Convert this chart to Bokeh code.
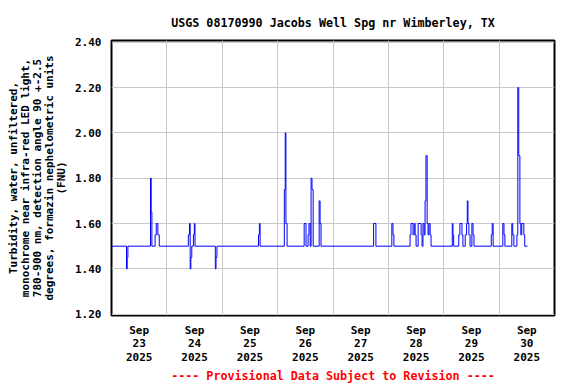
from bokeh.plotting import figure
from bokeh.models import FixedTicker, Range1d, Title
from bokeh.embed import file_html
from bokeh.resources import INLINE

# Hours since 2025-09-23 00:00 where the turbidity value changes (step series)
times_h = [0, 6.5, 6.8, 7.1, 16.9, 17.2, 17.5, 18.9, 19.4, 20.1, 20.7,
           33.3, 33.8, 34.1, 34.4, 34.8, 35.5, 35.9, 36.2,
           45.0, 45.3, 45.7, 63.7, 64.1, 64.4,
           74.9, 75.3, 75.6, 76.1, 83.5, 84.3, 85.2, 85.6, 86.1, 86.5, 86.9, 87.4,
           90.0, 90.4, 90.8, 113.6, 114.6, 121.5, 122.0, 122.4,
           129.4, 129.8, 130.7, 131.2, 131.6, 132.0, 132.9, 134.2, 134.6, 135.0,
           135.5, 135.9, 136.3, 136.8, 137.2, 137.6, 138.1, 138.5,
           147.7, 148.0, 148.3, 150.5, 151.0, 151.9, 152.3,
           153.3, 153.9, 154.2, 154.5, 154.9, 155.4, 156.2, 156.7, 157.1,
           164.6, 165.0, 165.4, 169.6, 170.1, 170.5, 173.5, 173.9, 174.4,
           175.7, 176.1, 176.5, 177.0, 177.4, 177.8, 178.7, 179.1, 180.3]
turbidity = [1.50, 1.40, 1.45, 1.50, 1.80, 1.65, 1.50, 1.55, 1.60, 1.55, 1.50,
             1.55, 1.60, 1.40, 1.45, 1.50, 1.55, 1.60, 1.50,
             1.40, 1.45, 1.50, 1.55, 1.60, 1.50,
             1.75, 2.00, 1.60, 1.50, 1.60, 1.50, 1.55, 1.60, 1.50, 1.80, 1.75, 1.50,
             1.70, 1.60, 1.50, 1.60, 1.50, 1.60, 1.55, 1.50,
             1.55, 1.60, 1.55, 1.60, 1.55, 1.50, 1.60, 1.55, 1.50, 1.60,
             1.55, 1.70, 1.90, 1.60, 1.55, 1.60, 1.55, 1.50,
             1.60, 1.55, 1.50, 1.55, 1.60, 1.55, 1.50,
             1.55, 1.60, 1.70, 1.60, 1.55, 1.50, 1.60, 1.55, 1.50,
             1.55, 1.60, 1.50, 1.60, 1.55, 1.50, 1.60, 1.55, 1.50,
             1.55, 2.20, 1.90, 1.60, 1.55, 1.60, 1.55, 1.50, 1.50]

day_ticks = [0.5, 1.5, 2.5, 3.5, 4.5, 5.5, 6.5, 7.5]
day_labels = ["Sep\n23\n2025", "Sep\n24\n2025", "Sep\n25\n2025", "Sep\n26\n2025",
              "Sep\n27\n2025", "Sep\n28\n2025", "Sep\n29\n2025", "Sep\n30\n2025"]
midnights = [1, 2, 3, 4, 5, 6, 7]
y_ticks = [1.2, 1.4, 1.6, 1.8, 2.0, 2.2, 2.4]
y_tick_labels = ["1.20", "1.40", "1.60", "1.80", "2.00", "2.20", "2.40"]

title_text = "USGS 08170990 Jacobs Well Spg nr Wimberley, TX"
footer_text = "---- Provisional Data Subject to Revision ----"
ylabel_lines = ["Turbidity, water, unfiltered,",
                "monochrome near infra-red LED light,",
                "780-900 nm, detection angle 90 +-2.5",
                "degrees, formazin nephelometric units",
                "(FNU)"]

FONT = "DejaVu Sans Mono"

p = figure(width=576, height=384, output_backend="svg", toolbar_location=None,
           x_range=Range1d(0, 8), y_range=Range1d(1.194, 2.408),
           min_border_left=111, min_border_right=22, min_border_top=40,
           min_border_bottom=69, background_fill_color="white",
           border_fill_color="white")

x_days = [t / 24.0 for t in times_h]
p.step(x_days, turbidity, mode="after", line_color="#0000ff", line_width=1)

p.outline_line_color = "black"
p.outline_line_width = 2

# grids
p.xgrid.ticker = FixedTicker(ticks=midnights)
p.ygrid.ticker = FixedTicker(ticks=y_ticks)
for g in (p.xgrid, p.ygrid):
    g.grid_line_color = "#c8c8c8"
    g.grid_line_width = 1

# axes
xa = p.xaxis[0]
xa.ticker = FixedTicker(ticks=day_ticks)
xa.major_label_overrides = {t: l for t, l in zip(day_ticks, day_labels)}
ya = p.yaxis[0]
ya.ticker = FixedTicker(ticks=y_ticks)
ya.major_label_overrides = {t: l for t, l in zip(y_ticks, y_tick_labels)}
for ax in (xa, ya):
    ax.axis_line_color = None
    ax.major_tick_line_color = None
    ax.minor_tick_line_color = None
    ax.major_tick_out = 0
    ax.major_tick_in = 0
    ax.minor_tick_out = 0
    ax.major_label_text_font = FONT
    ax.major_label_text_font_style = "bold"
    ax.major_label_text_font_size = "11px"
    ax.major_label_text_color = "black"
xa.major_label_standoff = 8
xa.major_label_text_line_height = 1.04
ya.major_label_standoff = 10
ya.axis_label = "\n".join(ylabel_lines)
ya.axis_label_text_font = FONT
ya.axis_label_text_font_style = "bold"
ya.axis_label_text_font_size = "11px"
ya.axis_label_text_color = "black"
ya.axis_label_text_line_height = 0.93
ya.axis_label_standoff = 4
ya.axis_label_text_align = "center"

p.title.text = title_text
p.title.align = "center"
p.title.text_font = FONT
p.title.text_font_style = "bold"
p.title.text_font_size = "11.7px"
p.title.text_color = "black"
p.title.standoff = 21

footer = Title(text=footer_text, align="center", text_font=FONT,
               text_font_style="bold", text_font_size="11.7px",
               text_color="#ff0000", standoff=0)
p.add_layout(footer, "below")

open("out.html", "w").write(file_html(p, INLINE))
